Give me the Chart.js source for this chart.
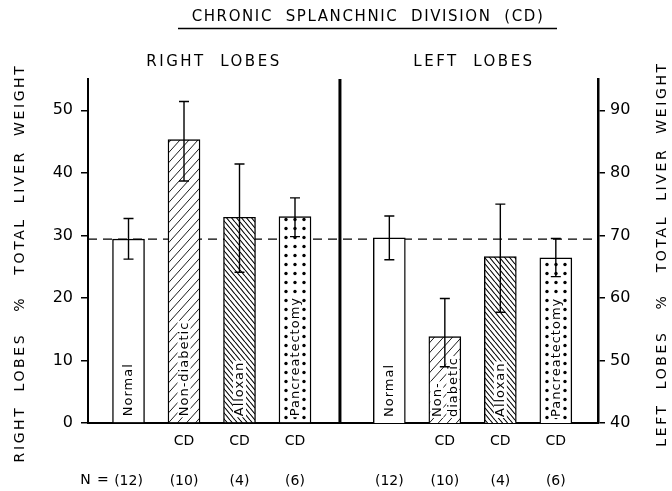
<!DOCTYPE html>
<html>
<head>
<meta charset="utf-8">
<script src="https://cdn.jsdelivr.net/npm/chart.js@4.4.1/dist/chart.umd.min.js"></script>
<style>
  html, body { margin: 0; padding: 0; background: #fff; }
</style>
</head>
<body>
<canvas id="chart" width="672" height="491"></canvas>
<script>
// groups (same order in both panels)
let groups = ['Normal', 'Non-diabetic', 'Alloxan', 'Pancreatectomy'];
let cdMarks = ['', 'CD', 'CD', 'CD'];
let nCounts = ['(12)', '(10)', '(4)', '(6)'];

// right lobes, % total liver weight (left axis)
let rightLobes = [29.4, 45.3, 32.9, 33.0];
let rightLow = [26.2, 38.7, 24.1, 29.8];
let rightHigh = [32.7, 51.4, 41.4, 36.0];

// left lobes, % total liver weight (right axis)
let leftLobes = [69.6, 53.8, 66.6, 66.4];
let leftLow = [66.1, 49.0, 57.7, 63.4];
let leftHigh = [73.1, 59.9, 75.0, 69.5];

// normal level (dashed line), right lobes scale
let normalLevel = 29.4;

let rightAxisTicks = [0, 10, 20, 30, 40, 50];
let leftAxisTicks = [40, 50, 60, 70, 80, 90];

// layout of the groups on the x scale
const FIRST = 1, SECOND = 5.7, DIVIDER = 4.81;
const FONT = "'DejaVu Sans', sans-serif";

function hatch(w, h, back, lw) {
    let c = document.createElement('canvas');
    c.width = w; c.height = h;
    let g = c.getContext('2d');
    g.fillStyle = '#fff';
    g.fillRect(0, 0, w, h);
    g.strokeStyle = '#000';
    g.lineWidth = lw;
    g.beginPath();
    for (let k = -1; k <= 1; k++) {
        if (back) { g.moveTo(k * w, 0); g.lineTo(k * w + w, h); }
        else { g.moveTo(k * w, h); g.lineTo(k * w + w, 0); }
    }
    g.stroke();
    return g.createPattern(c, 'repeat');
}

function dots(w, h, r, ox, oy) {
    let c = document.createElement('canvas');
    c.width = w; c.height = h;
    let g = c.getContext('2d');
    g.fillStyle = '#fff';
    g.fillRect(0, 0, w, h);
    g.fillStyle = '#000';
    g.beginPath();
    g.arc(ox, oy, r, 0, Math.PI * 2);
    g.fill();
    return g.createPattern(c, 'repeat');
}

let fills = ['#fff', hatch(9, 10, false, 0.9), hatch(5, 6, true, 1.1), dots(9, 9, 1.7, 7, 3.5)];

let xPos = groups.map((g, i) => FIRST + i).concat(groups.map((g, i) => SECOND + i));

function spaced(ctx, text, x, y, sp) {
    ctx.letterSpacing = sp + 'px';
    ctx.fillText(text, x, y);
    ctx.letterSpacing = '0px';
}

let decor = {
    id: 'decor',
    beforeDatasetsDraw(chart) {
        let ctx = chart.ctx, a = chart.chartArea;
        let yy = chart.scales.y.getPixelForValue(normalLevel);
        ctx.save();
        ctx.strokeStyle = '#000';
        ctx.lineWidth = 1.4;
        ctx.setLineDash([9, 6]);
        ctx.beginPath();
        ctx.moveTo(a.left, yy);
        ctx.lineTo(a.right, yy);
        ctx.stroke();
        ctx.restore();
    },
    afterDatasetsDraw(chart) {
        let ctx = chart.ctx, a = chart.chartArea;
        let x = chart.scales.x;
        ctx.save();
        // divider between panels
        ctx.strokeStyle = '#000';
        ctx.lineWidth = 3;
        ctx.beginPath();
        ctx.moveTo(x.getPixelForValue(DIVIDER), a.top);
        ctx.lineTo(x.getPixelForValue(DIVIDER), a.bottom);
        ctx.stroke();

        // labels inside the bars
        ctx.font = '13px ' + FONT;
        ctx.textBaseline = 'middle';
        ctx.textAlign = 'left';
        chart.data.datasets.forEach((ds, d) => {
            chart.getDatasetMeta(d).data.forEach((bar, i) => {
                let base = Math.min(bar.base, a.bottom);
                let text = groups[i];
                let lines = [text];
                let room = base - bar.y - 8;
                ctx.letterSpacing = '1px';
                if (ctx.measureText(text).width > room && text.includes('-')) {
                    let p = text.indexOf('-');
                    lines = [text.slice(0, p + 1), text.slice(p + 1)];
                }
                lines.forEach((t, k) => {
                    let cx = bar.x + (k - (lines.length - 1) / 2) * 16;
                    let w = ctx.measureText(t).width;
                    ctx.save();
                    ctx.translate(cx, base - 6);
                    ctx.rotate(-Math.PI / 2);
                    ctx.fillStyle = '#fff';
                    ctx.fillRect(-1, -6.5, w + 2, 13);
                    ctx.fillStyle = '#000';
                    ctx.fillText(t, 0, 0.5);
                    ctx.restore();
                });
                ctx.letterSpacing = '0px';
            });
        });

        // error bars
        let sets = [[rightLow, rightHigh, 'y'], [leftLow, leftHigh, 'y2']];
        ctx.lineWidth = 1.4;
        sets.forEach((s, d) => {
            let sc = chart.scales[s[2]];
            chart.getDatasetMeta(d).data.forEach((bar, i) => {
                let lo = sc.getPixelForValue(s[0][i]);
                let hi = sc.getPixelForValue(s[1][i]);
                ctx.beginPath();
                ctx.moveTo(bar.x, lo); ctx.lineTo(bar.x, hi);
                ctx.moveTo(bar.x - 5, lo); ctx.lineTo(bar.x + 5, lo);
                ctx.moveTo(bar.x - 5, hi); ctx.lineTo(bar.x + 5, hi);
                ctx.stroke();
            });
        });
        ctx.restore();
    },
    afterDraw(chart) {
        let ctx = chart.ctx, a = chart.chartArea;
        let x = chart.scales.x;
        ctx.save();
        ctx.fillStyle = '#000';
        ctx.textAlign = 'center';
        ctx.textBaseline = 'middle';

        // main title, underlined
        ctx.font = '15px ' + FONT;
        spaced(ctx, 'CHRONIC  SPLANCHNIC  DIVISION  (CD)', 368, 17, 1.6);
        ctx.strokeStyle = '#000';
        ctx.lineWidth = 1.3;
        ctx.beginPath();
        ctx.moveTo(178, 28.5);
        ctx.lineTo(557, 28.5);
        ctx.stroke();

        // panel titles
        ctx.font = '15px ' + FONT;
        let midR = (a.left + x.getPixelForValue(DIVIDER)) / 2;
        let midL = (x.getPixelForValue(DIVIDER) + a.right) / 2;
        spaced(ctx, 'RIGHT  LOBES', midR, 62, 2.5);
        spaced(ctx, 'LEFT  LOBES', midL + 5, 62, 2.5);

        // axis titles
        ctx.font = '14px ' + FONT;
        ctx.save();
        ctx.translate(20, 263);
        ctx.rotate(-Math.PI / 2);
        spaced(ctx, 'RIGHT  LOBES   %   TOTAL  LIVER  WEIGHT', 0, 0, 2.6);
        ctx.restore();
        ctx.save();
        ctx.translate(662, 254);
        ctx.rotate(-Math.PI / 2);
        spaced(ctx, 'LEFT  LOBES   %   TOTAL  LIVER  WEIGHT', 0, 0, 2.6);
        ctx.restore();

        // N =
        ctx.font = '14px ' + FONT;
        spaced(ctx, 'N =', 95, 480, 1);
        ctx.restore();
    }
};

new Chart(document.getElementById('chart'), {
    type: 'bar',
    data: {
        datasets: [{
            label: 'Right lobes',
            data: rightLobes.map((v, i) => ({ x: xPos[i], y: v })),
            yAxisID: 'y',
            backgroundColor: fills,
            borderColor: '#000',
            borderWidth: 1.4,
            barThickness: 32,
            grouped: false
        }, {
            label: 'Left lobes',
            data: leftLobes.map((v, i) => ({ x: xPos[i + 4], y: v })),
            yAxisID: 'y2',
            backgroundColor: fills,
            borderColor: '#000',
            borderWidth: 1.4,
            barThickness: 32,
            grouped: false
        }]
    },
    options: {
        responsive: false,
        animation: false,
        layout: { padding: { top: 79, left: 0, right: 0, bottom: 0 } },
        plugins: { legend: { display: false }, tooltip: { enabled: false } },
        scales: {
            x: {
                type: 'linear',
                offset: false,
                min: 0.27,
                max: 9.46,
                afterFit: s => { s.height = 68; },
                afterBuildTicks: s => { s.ticks = xPos.map(v => ({ value: v })); },
                grid: { display: false },
                border: { display: true, color: '#000', width: 2 },
                ticks: {
                    autoSkip: false,
                    maxRotation: 0,
                    padding: 0,
                    color: '#000',
                    font: { family: FONT, size: 14, lineHeight: 1.43 },
                    callback: (v, i) => [cdMarks[i % 4], '', nCounts[i % 4]]
                }
            },
            y: {
                position: 'left',
                min: 0,
                max: 55,
                afterFit: s => { s.width = 88; },
                afterBuildTicks: s => { s.ticks = rightAxisTicks.map(v => ({ value: v })); },
                grid: { drawOnChartArea: false, drawTicks: true, tickLength: 7, color: '#000', lineWidth: 1.5 },
                border: { display: true, color: '#000', width: 2 },
                ticks: { padding: 8, color: '#000', font: { family: FONT, size: 16 } }
            },
            y2: {
                position: 'right',
                min: 40,
                max: 95,
                afterFit: s => { s.width = 74; },
                afterBuildTicks: s => { s.ticks = leftAxisTicks.map(v => ({ value: v })); },
                grid: { drawOnChartArea: false, drawTicks: true, tickLength: 7, color: '#000', lineWidth: 1.5 },
                border: { display: true, color: '#000', width: 2.5 },
                ticks: { padding: 5, color: '#000', font: { family: FONT, size: 16 } }
            }
        }
    },
    plugins: [decor]
});
</script>
</body>
</html>
